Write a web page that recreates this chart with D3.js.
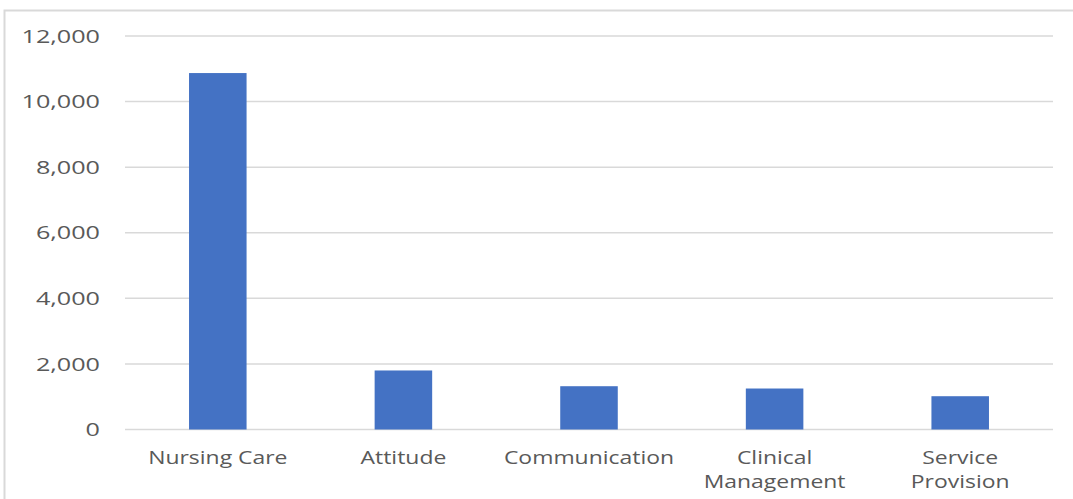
<!DOCTYPE html>
<html>
<head>
<meta charset="utf-8">
<script src="https://cdn.jsdelivr.net/npm/d3@7"></script>
<style>
  body { margin: 0; background: #fff; }
  text { font-family: "Open Sans", "Noto Sans", sans-serif; fill: #595959; }
</style>
</head>
<body>
<script>
// data
var categories = ["Nursing Care", "Attitude", "Communication", "Clinical Management", "Service Provision"];
var values = [10870, 1800, 1320, 1250, 1015];
var yTicks = [0, 2000, 4000, 6000, 8000, 10000, 12000];

var W = 1073, H = 499;
var margin = {top: 36, left: 125},
    width = 1053 - margin.left,
    height = 429.5 - margin.top;

var svg = d3.select("body").append("svg")
    .attr("width", W)
    .attr("height", H);

// chart border
svg.append("rect")
    .attr("x", 4.5).attr("y", 10.5)
    .attr("width", W + 10).attr("height", H + 10)
    .attr("fill", "none")
    .attr("stroke", "#d9d9d9")
    .attr("stroke-width", 2);

var g = svg.append("g")
    .attr("transform", "translate(" + margin.left + "," + margin.top + ")");

var xScale = d3.scaleBand().domain(categories).range([0, width]).paddingInner(0.69).paddingOuter(0.345);
var yScale = d3.scaleLinear().domain([0, 12000]).range([height, 0]);

// gridlines
g.selectAll("line.grid")
    .data(yTicks)
    .enter().append("line")
    .attr("class", "grid")
    .attr("x1", 0).attr("x2", width)
    .attr("y1", function(d) { return yScale(d); })
    .attr("y2", function(d) { return yScale(d); })
    .attr("stroke", "#d9d9d9")
    .attr("stroke-width", 1.5);

// y labels (the picture is stretched wide, so text is scaled on x)
var fmt = d3.format(",");
g.selectAll("g.ylab")
    .data(yTicks)
    .enter().append("g")
    .attr("class", "ylab")
    .attr("transform", function(d) { return "translate(-25," + yScale(d) + ")"; })
    .append("text")
    .attr("transform", "scale(1.36,1)")
    .attr("text-anchor", "end")
    .attr("dy", "0.36em")
    .style("font-size", "18.5px")
    .text(function(d) { return fmt(d); });

// bars
g.selectAll("rect.bar")
    .data(values)
    .enter().append("rect")
    .attr("class", "bar")
    .attr("x", function(d, i) { return xScale(categories[i]); })
    .attr("y", function(d) { return yScale(d); })
    .attr("width", xScale.bandwidth())
    .attr("height", function(d) { return height - yScale(d); })
    .attr("fill", "#4472c4");

// x labels (wrapped like excel)
var lab = g.selectAll("g.xlab")
    .data(categories)
    .enter().append("g")
    .attr("class", "xlab")
    .attr("transform", function(d) { return "translate(" + (xScale(d) + xScale.bandwidth() / 2) + "," + (height + 34) + ")"; })
    .append("text")
    .attr("transform", "scale(1.24,1)")
    .attr("text-anchor", "middle")
    .style("font-size", "18.5px");
lab.each(function(d) {
    var words = d === "Nursing Care" ? [d] : d.split(" ");
    var t = d3.select(this);
    words.forEach(function(w, i) {
        t.append("tspan")
            .attr("x", 0)
            .attr("dy", i === 0 ? 0 : 25)
            .text(w);
    });
});
</script>
</body>
</html>
